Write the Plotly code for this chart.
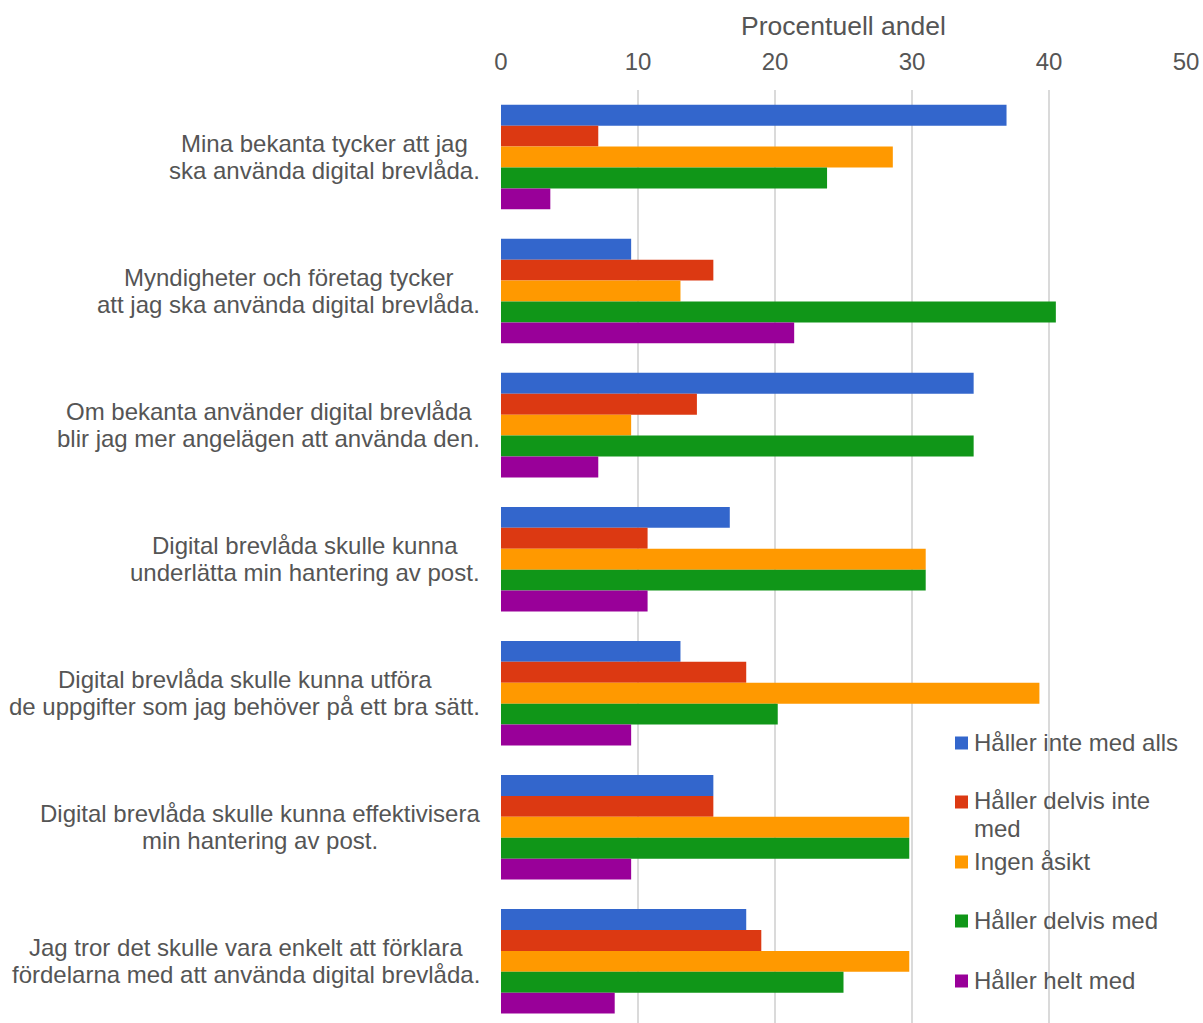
import plotly.graph_objects as go

# Survey statements (y categories) and response shares in percent
statements = [
    "Mina bekanta tycker att jag<br>ska använda digital brevlåda.",
    "Myndigheter och företag tycker<br>att jag ska använda digital brevlåda.",
    "Om bekanta använder digital brevlåda<br>blir jag mer angelägen att använda den.",
    "Digital brevlåda skulle kunna<br>underlätta min hantering av post.",
    "Digital brevlåda skulle kunna utföra<br>de uppgifter som jag behöver på ett bra sätt.",
    "Digital brevlåda skulle kunna effektivisera<br>min hantering av post.",
    "Jag tror det skulle vara enkelt att förklara<br>fördelarna med att använda digital brevlåda.",
]

series_names = [
    "Håller inte med alls",
    "Håller delvis inte<br>med",
    "Ingen åsikt",
    "Håller delvis med",
    "Håller helt med",
]

halller_inte_med_alls = [36.9, 9.5, 34.5, 16.7, 13.1, 15.5, 17.9]
haller_delvis_inte_med = [7.1, 15.5, 14.3, 10.7, 17.9, 15.5, 19.0]
ingen_asikt = [28.6, 13.1, 9.5, 31.0, 39.3, 29.8, 29.8]
haller_delvis_med = [23.8, 40.5, 34.5, 31.0, 20.2, 29.8, 25.0]
haller_helt_med = [3.6, 21.4, 7.1, 10.7, 9.5, 9.5, 8.3]

series_values = [
    halller_inte_med_alls,
    haller_delvis_inte_med,
    ingen_asikt,
    haller_delvis_med,
    haller_helt_med,
]

colors = ["#3366CC", "#DC3912", "#FF9900", "#109618", "#990099"]

x_ticks = [0, 10, 20, 30, 40, 50]

# Figure geometry (pixels)
W, H = 1203, 1023
M_L, M_R, M_T, M_B = 501, 17, 90, 0
plot_w = W - M_L - M_R
plot_h = H - M_T - M_B

FONT = "Liberation Sans, Arial, sans-serif"
TEXT_COLOR = "#555555"
LABEL_SIZE = 24
LINE_GAP = 27  # distance between wrapped text lines

fig = go.Figure()
for name, vals, col in zip(series_names, series_values, colors):
    fig.add_trace(go.Bar(
        y=statements,
        x=vals,
        orientation="h",
        name=name,
        marker=dict(color=col, line=dict(width=0)),
        showlegend=False,
    ))

# Category labels: each wrapped line centred on the block, block right edge
# just left of the plot area
for s in statements:
    lines = s.split("<br>")
    n = len(lines)
    for i, line in enumerate(lines):
        fig.add_annotation(
            x=0, xref="paper", y=s, yref="y",
            text=line, showarrow=False,
            xanchor="center", yanchor="middle",
            xshift=0,
            yshift=((n - 1) / 2 - i) * LINE_GAP,
            font=dict(family=FONT, size=LABEL_SIZE, color=TEXT_COLOR),
            name="cat-label",
        )


def px_to_paper_x(px):
    return (px - M_L) / plot_w


def px_to_paper_y(py):
    return (H - M_B - py) / plot_h


# Legend drawn as swatches + labels inside the plot area
legend_rows = [743, 802, 862, 921, 981]
for name, col, row in zip(series_names, colors, legend_rows):
    fig.add_shape(
        type="rect", xref="paper", yref="paper",
        x0=px_to_paper_x(955), x1=px_to_paper_x(968),
        y0=px_to_paper_y(row + 6.5), y1=px_to_paper_y(row - 6.5),
        fillcolor=col, line=dict(width=0), layer="above",
    )
    for i, line in enumerate(name.split("<br>")):
        fig.add_annotation(
            x=px_to_paper_x(972), xref="paper",
            y=px_to_paper_y(row - 1 + i * 28), yref="paper",
            text=line, showarrow=False,
            xanchor="left", yanchor="middle", align="left",
            font=dict(family=FONT, size=LABEL_SIZE, color=TEXT_COLOR),
        )

fig.update_layout(
    width=W, height=H,
    margin=dict(l=M_L, r=M_R, t=M_T, b=M_B, pad=0),
    paper_bgcolor="white", plot_bgcolor="white",
    barmode="group", bargap=0.22, bargroupgap=0,
    font=dict(family=FONT, size=LABEL_SIZE, color=TEXT_COLOR),
    showlegend=False,
    xaxis=dict(
        side="top", range=[0, 50], tickvals=x_ticks,
        ticks="", showline=False, zeroline=False,
        showgrid=True, gridcolor="#DADADA", gridwidth=2,
        ticklabelstandoff=14,
        tickfont=dict(family=FONT, size=24, color=TEXT_COLOR),
        title=dict(text="Procentuell andel", standoff=4,
                   font=dict(family=FONT, size=26.5, color=TEXT_COLOR)),
    ),
    yaxis=dict(
        type="category", range=[6.46, -0.5],
        showticklabels=False, ticks="", showgrid=False,
        zeroline=False, showline=False,
    ),
)

# Right-align each label block against the plot while keeping its lines
# centred on one another: shift every line of a block left by the gap plus
# half the width of the block's widest line, measured after rendering.
post_js = """
var gd = document.querySelector('.js-plotly-plot');
var anns = gd.layout.annotations;
var groups = {};
anns.forEach(function(a, idx){
  if (a.name === 'cat-label') {
    (groups[a.y] = groups[a.y] || []).push(idx);
  }
});
var nodes = gd.querySelectorAll('.annotation');
var update = {};
var RIGHT_GAP = 21;
Object.keys(groups).forEach(function(k){
  var ids = groups[k];
  var maxW = 0;
  ids.forEach(function(i){
    var t = nodes[i].querySelector('text');
    var w = t.getComputedTextLength();
    if (w > maxW) maxW = w;
  });
  ids.forEach(function(i){
    update['annotations[' + i + '].xshift'] = -(RIGHT_GAP + maxW / 2);
  });
});
Plotly.relayout(gd, update);
"""

fig.write_html("out.html", post_script=post_js)
